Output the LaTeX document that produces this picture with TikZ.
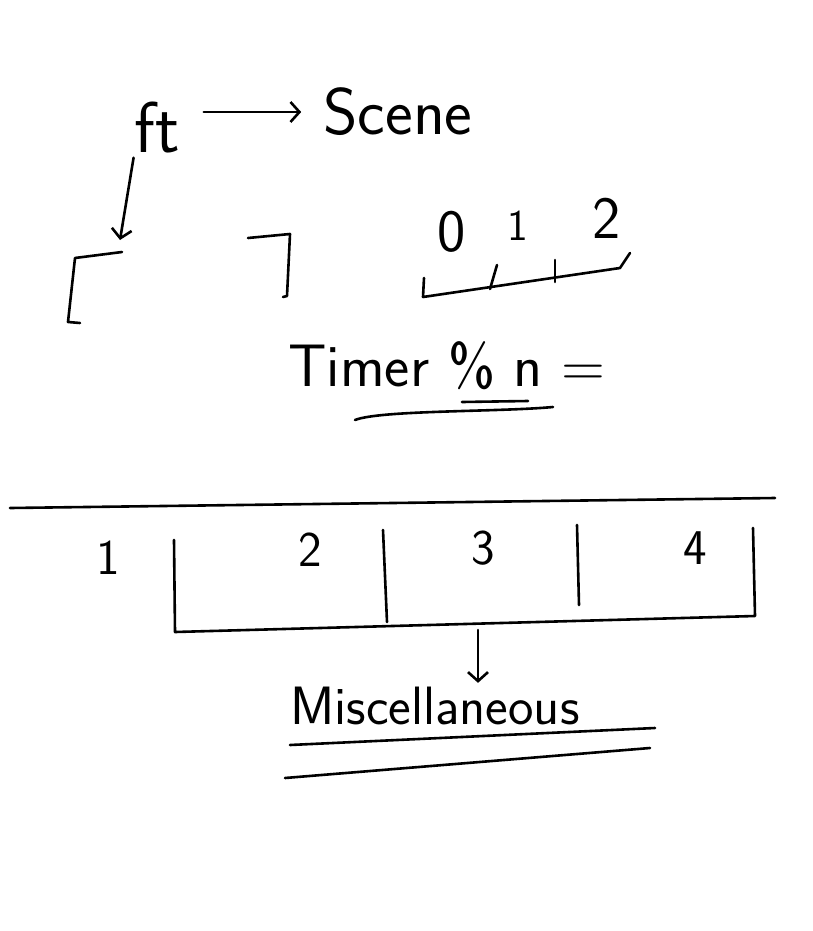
\documentclass[tikz,border=0pt]{standalone}
\usepackage{tikz}
\usetikzlibrary{arrows.meta}
\tikzset{
  pen/.style={line width=2.6pt, line cap=round, line join=round},
  hand/.style={inner sep=0pt, font=\fontsize{#1}{#1}\selectfont\sffamily},
}

\begin{document}
\begin{tikzpicture}[x=1pt, y=-1pt, >={Straight Barb[length=9pt,width=20pt]}]
    \useasboundingbox (0,0) rectangle (813,931);

    % Top: ft points to the scene
    \node[hand=72] (ft) at (157,128) {ft};
    \node[hand=66] (scene) at (398,112) {Scene};
    \draw[pen,->, shorten <=24pt, shorten >=22pt] (ft.east |- scene.west) -- (scene.west);

    % Arrow down into the frame
    \coordinate (frametop) at (120,240);
    \draw[pen,->, shorten <=4pt] (ft.south west) ++(0,0) -- (frametop);

    % Frame corners
    \draw[pen] (122,252) -- (75,258) -- (68,322) -- (80,323);
    \draw[pen] (248,238) -- (290,234) -- (287,296) -- (283,297);

    % Scale with ticks 0 1 2
    \node[hand=60] (d0) at (452,232) {0};
    \node[hand=44] (d1) at (518,226) {1};
    \node[hand=60] (d2) at (607,218) {2};
    \draw[pen] (424,278) -- (423,297) -- (620,268) -- (630,253);
    \draw[pen] (490,289) -- (497,265);
    \draw[pen] (555,282) -- (555,260);

    % Timer % n
    \node[hand=60] (timer) at (447,366) {Timer \% n =};
    \draw[pen] (462,402) -- (528,401);
    \draw[pen] (355,420) .. controls (380,410) and (500,412) .. (553,407);

    % Strip of slots
    \draw[pen] (10,508) -- (775,498);
    \foreach \n/\x/\y in {1/108/558, 2/310/550, 3/483/548, 4/695/548}
        \node[hand=50] (c\n) at (\x,\y) {\n};
    \draw[pen] (174,540) -- (175,632) -- (755,616) -- (753,528);
    \draw[pen] (383,530) -- (387,622);
    \draw[pen] (577,525) -- (579,605);

    % Miscellaneous
    \coordinate (strip) at (478,630);
    \node[hand=54] (misc) at (435,706) {Miscellaneous};
    \draw[pen,->, shorten >=4pt] (strip) -- (strip |- misc.north);
    \draw[pen] (290,745) -- (655,728);
    \draw[pen] (285,778) -- (650,748);
\end{tikzpicture}
\end{document}
